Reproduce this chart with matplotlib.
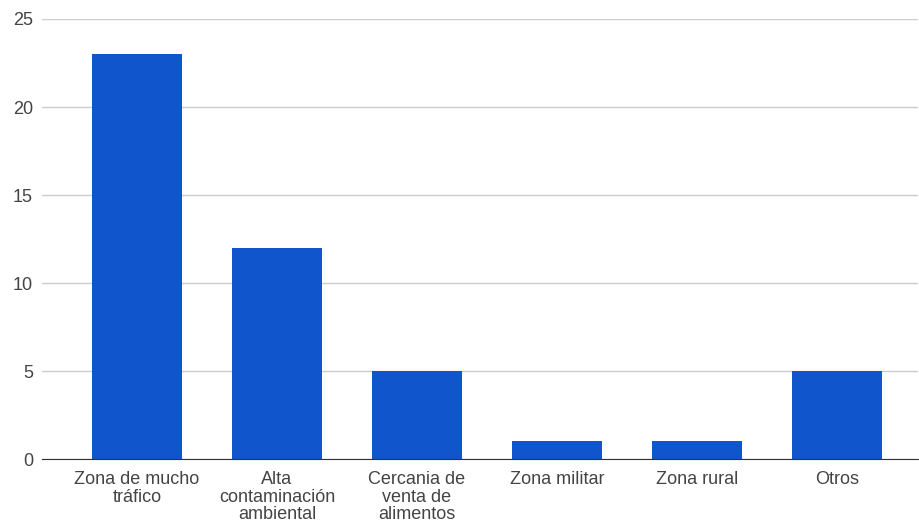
import matplotlib.pyplot as plt

# categories and counts
categories = ['Zona de mucho\ntráfico', 'Alta\ncontaminación\nambiental',
              'Cercania de\nventa de\nalimentos', 'Zona militar', 'Zona rural', 'Otros']
values = [23, 12, 5, 1, 1, 5]
yticks = [0, 5, 10, 15, 20, 25]

plt.rcParams['font.family'] = ['Liberation Sans', 'DejaVu Sans']

fig = plt.figure(figsize=(9.19, 5.27), dpi=100)
ax = fig.add_axes([42 / 919, 68 / 527, 876 / 919, 440 / 527])

x = range(len(categories))
ax.bar(x, values, width=0.643, color='#1155cc', zorder=3)

ax.set_xlim(-0.679, 5.579)
ax.set_ylim(0, 25)
ax.set_yticks(yticks)
ax.set_xticks(list(x))
ax.set_xticklabels(categories, fontsize=13, color='#444444', linespacing=1.03)
ax.tick_params(axis='y', labelsize=13, labelcolor='#444444', length=0, pad=6.5)
ax.tick_params(axis='x', length=0, pad=9)

ax.grid(axis='y', color='#cccccc', linewidth=1, zorder=0)
for s in ['top', 'right', 'left']:
    ax.spines[s].set_visible(False)
ax.spines['bottom'].set_color('#333333')
ax.spines['bottom'].set_zorder(4)

fig.savefig('out.png', dpi=100)
